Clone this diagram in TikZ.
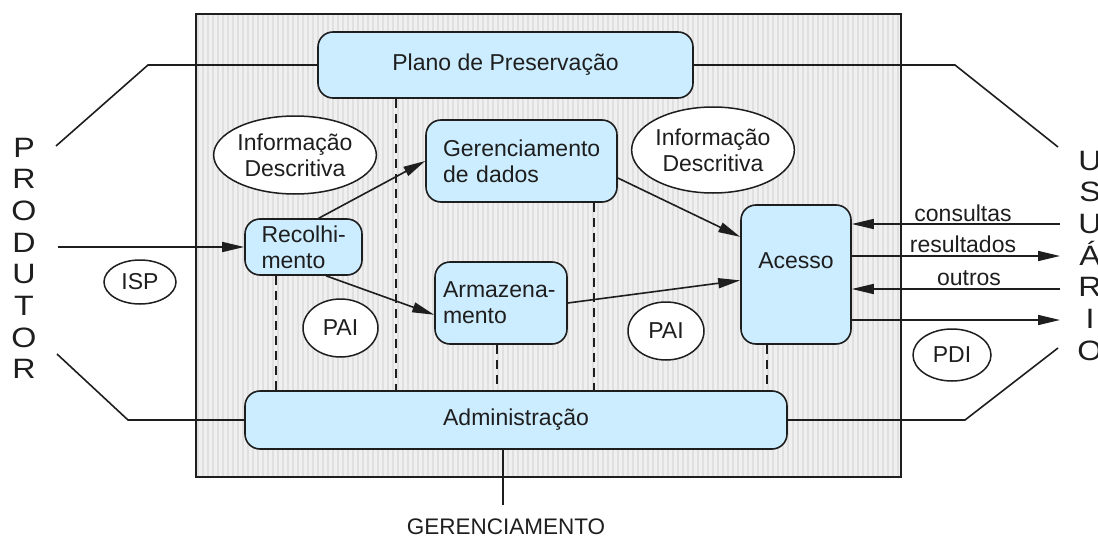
\documentclass[tikz,border=0pt]{standalone}
\usepackage{fontspec}
\setmainfont{Liberation Sans}
\newfontfamily\widefont[FakeStretch=1.15]{Liberation Sans}
\usetikzlibrary{arrows.meta,shapes.geometric}
\definecolor{boxblue}{RGB}{204,236,255}
\definecolor{ink}{RGB}{30,30,30}
\begin{document}
\begin{tikzpicture}[x=1pt,y=-1pt,
  font=\fontsize{23}{26}\selectfont, text=ink,
  box/.style={draw=ink, line width=1.6pt, fill=boxblue, rounded corners=15pt, inner sep=0pt},
  ell/.style={ellipse, draw=ink, line width=1.5pt, fill=white, inner sep=0pt, align=center},
  link/.style={draw=ink, line width=1.6pt},
  arr/.style={link, -{Triangle[length=22pt,width=10pt]}},
  dsh/.style={draw=ink, line width=1.6pt, dash pattern=on 9pt off 6pt},
  big/.style={font=\widefont\fontsize{28}{30}\selectfont, inner sep=0pt, anchor=base},
  lbl/.style={inner sep=0pt, anchor=base}
]
\useasboundingbox (0,0) rectangle (1098,538);
% gray system box
\fill[black!6] (196,14) rectangle (901,477);
\begin{scope}
\clip (196,14) rectangle (901,477);
\foreach \x in {198,203,...,900} \draw[black!12, line width=1.6pt] (\x,14) -- (\x,477);
\end{scope}
\draw[draw=ink, line width=1.6pt] (196,14) rectangle (901,477);

% boxes
\node[box, minimum width=375pt, minimum height=66pt] (plano) at (505.5,65) {Plano de Preservação};
\node[box, minimum width=542pt, minimum height=58pt] (admin) at (516,420) {Administração};
\node[box, text width=92pt, inner xsep=12.5pt, minimum height=56pt, align=left] (recol) at (303.5,247) {\hspace*{4pt}Recolhi-\\\hspace*{4pt}mento};
\node[box, text width=157pt, inner xsep=17pt, minimum height=82pt, align=left] (geren) at (521.5,161) {Gerenciamento\\de dados};
\node[box, text width=116pt, inner xsep=8pt, minimum height=82pt, align=left] (armaz) at (501,303) {Armazena-\\mento};
\node[box, minimum width=110pt, minimum height=139pt, label={[yshift=14pt]center:Acesso}] (acesso) at (796,274.5) {};

% ellipses
\node[ell, minimum width=152pt, minimum height=78pt] (info1) at (295,155) {Informação\\Descritiva};
\node[ell, minimum width=152pt, minimum height=86pt] (info2) at (713,150) {Informação\\Descritiva};
\node[ell, minimum width=72pt, minimum height=44pt] (isp) at (140,282) {ISP};
\node[ell, minimum width=75pt, minimum height=58pt] (pai1) at (340.5,328) {PAI};
\node[ell, minimum width=76pt, minimum height=58pt] (pai2) at (666,331) {PAI};
\node[ell, minimum width=78pt, minimum height=52pt] (pdi) at (952,355) {PDI};

% outer frame lines
\coordinate (lt1) at (148,65); \coordinate (lt2) at (56,146);
\coordinate (lb1) at (128,420); \coordinate (lb2) at (57,354);
\coordinate (rt1) at (955,65); \coordinate (rt2) at (1058,147);
\coordinate (rb1) at (965,420); \coordinate (rb2) at (1058,348);
\draw[link] (plano.west) -- (lt1) -- (lt2);
\draw[link] (admin.west) -- (lb1) -- (lb2);
\draw[link] (plano.east) -- (rt1) -- (rt2);
\draw[link] (admin.east) -- (rb1) -- (rb2);

% dashed links
\coordinate (d1) at (276,0); \coordinate (d2) at (396,0); \coordinate (d3) at (497,0);
\coordinate (d4) at (594,0); \coordinate (d5) at (767,0);
\draw[dsh] (recol.south -| d1) -- (admin.north -| d1);
\draw[dsh] (plano.south -| d2) -- (admin.north -| d2);
\draw[dsh] (armaz.south -| d3) -- (admin.north -| d3);
\draw[dsh] (geren.south -| d4) -- (admin.north -| d4);
\draw[dsh] (acesso.south -| d5) -- (admin.north -| d5);

% management
\coordinate (g1) at (503,505);
\draw[link] (admin.south -| g1) -- (g1);
\node[lbl, font=\fontsize{22.5}{24}\selectfont] (ger) at (506,534) {GERENCIAMENTO};

% flow arrows
\coordinate (pin) at (58,247);
\draw[arr] (pin) -- (pin -| recol.west);
\draw[arr] (recol.62) -- (geren.west);
\draw[arr] (recol.-52) -- (armaz.190);
\draw[arr] (geren.-10) -- (acesso.146);
\draw[arr] (armaz.east) -- (acesso.186);

% access arrows
\coordinate (c1) at (1060,224); \coordinate (c2) at (1060,256);
\coordinate (c3) at (1060,289); \coordinate (c4) at (1060,320);
\draw[arr] (c1) -- (c1 -| acesso.east);
\draw[arr] (c2 -| acesso.east) -- (c2);
\draw[arr] (c3) -- (c3 -| acesso.east);
\draw[arr] (c4 -| acesso.east) -- (c4);
\node[lbl] (cons) at (963,221) {consultas};
\node[lbl] (res) at (963,252) {resultados};
\node[lbl] (out) at (969,285) {outros};

% vertical words
\foreach \l [count=\i] in {P,R,O,D,U,T,O,R}
  \node[big] (p\i) at (24,{157+31.7*(\i-1)}) {\l};
\foreach \l [count=\i] in {U,S,U,Á,R,I,O}
  \node[big] (u\i) at (1090,{170+31.7*(\i-1)}) {\l};
\end{tikzpicture}
\end{document}
